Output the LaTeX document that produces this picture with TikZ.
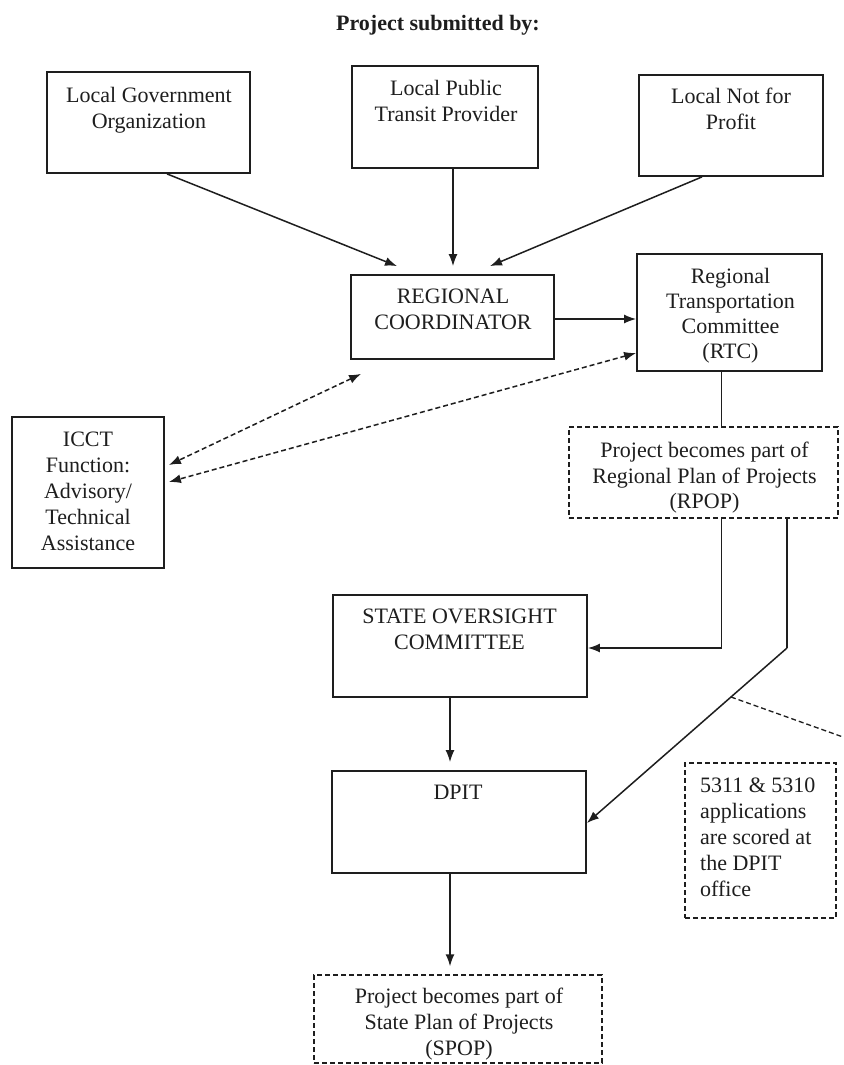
\documentclass[tikz,border=0pt]{standalone}
\usepackage{fontspec}
\setmainfont{Liberation Serif}
\usetikzlibrary{arrows.meta,calc}
\definecolor{ink}{HTML}{1E1E1E}
\tikzset{
  box/.style={draw=ink, line width=1.8pt, inner sep=0pt, minimum width=#1},
  boxh/.style={minimum height=#1},
  dbox/.style={box=#1, dash pattern=on 5pt off 3pt, line width=1.4pt},
  txt/.style={font=\fontsize{22}{26}\selectfont, align=center, inner sep=0pt, text=ink, anchor=north},
  conn/.style={draw=ink, line width=1.5pt},
  tip/.tip={Latex[length=12pt,width=9pt]},
  arr/.style={conn, -tip},
  darr/.style={conn, dash pattern=on 5pt off 3pt, tip-tip},
  dline/.style={conn, line width=1.3pt, dash pattern=on 5pt off 3pt},
}
\begin{document}
\begin{tikzpicture}[x=1pt,y=-1pt]
\useasboundingbox[fill=white] (0,0) rectangle (843,1065);

% title
\node[txt, font=\fontsize{22}{26}\selectfont\bfseries] (title) at (438,15) {Project submitted by:};

% boxes
\node[box=203pt, boxh=101pt] (lgo)  at (148.5,122.5) {};
\node[box=186pt, boxh=102pt] (lptp) at (445,117) {};
\node[box=184pt, boxh=101pt] (lnp)  at (731,125.5) {};
\node[box=203pt, boxh=84pt]  (rc)   at (452.5,317) {};
\node[box=185pt, boxh=117pt] (rtc)  at (729.5,312.5) {};
\node[box=152pt, boxh=151pt] (icct) at (88,492.5) {};
\node[dbox=269pt, boxh=91pt] (rpop) at (703.5,472.5) {};
\node[box=254pt, boxh=102pt] (soc)  at (460,646) {};
\node[box=254pt, boxh=102pt] (dpit) at (459,822) {};
\node[dbox=151pt, boxh=155pt] (n5311) at (760.5,840.5) {};
\node[dbox=288pt, boxh=88pt] (spop) at (458,1019) {};

% texts
\node[txt] (lgoT)  at (149,87)  {Local Government\\Organization};
\node[txt] (lptpT) at (446,80)  {Local Public\\Transit Provider};
\node[txt] (lnpT)  at (731,88)  {Local Not for\\Profit};
\node[txt] (rcT)   at (453,289) {REGIONAL\\COORDINATOR};
\node[txt, font=\fontsize{22}{25}\selectfont] (rtcT) at (730.5,268) {Regional\\Transportation\\Committee\\(RTC)};
\node[txt] (icctT) at (88,432) {ICCT\\Function:\\Advisory/\\Technical\\Assistance};
\node[txt, font=\fontsize{22}{25.5}\selectfont] (rpopT) at (704.5,442) {Project becomes part of\\Regional Plan of Projects\\(RPOP)};
\node[txt] (socT)  at (459.5,609) {STATE OVERSIGHT\\COMMITTEE};
\node[txt] (dpitT) at (458,785) {DPIT};
\node[txt, align=left, anchor=north west] (n5311T) at (700,778) {5311 \& 5310\\applications\\are scored at\\the DPIT\\office};
\node[txt] (spopT) at (459,988) {Project becomes part of\\State Plan of Projects\\(SPOP)};

% connectors
\draw[arr] ([xshift=18.5pt]lgo.south) -- ([xshift=-55.5pt,yshift=8pt]rc.north);
\draw[arr] ([xshift=8pt]lptp.south) -- ([xshift=0.5pt,yshift=8pt]rc.north);
\draw[arr] ([xshift=-29pt]lnp.south) -- ([xshift=37.5pt,yshift=8pt]rc.north);
\draw[arr] ([yshift=-2pt]rc.east) -- ([yshift=-2pt]rc.east -| rtc.west);
\draw[darr] ([xshift=11pt,yshift=-14pt]rc.south west) -- ([xshift=4pt,yshift=27.5pt]icct.east);
\draw[darr] ([yshift=-40.5pt]rtc.west) -- ([xshift=4pt,yshift=10.5pt]icct.east);
\draw[conn] ([xshift=-8pt]rtc.south) -- ([xshift=18pt]rpop.north);
\draw[arr] ([xshift=18pt]rpop.south) |- ([yshift=-2pt]soc.east);
\coordinate (bend) at (787,648);
\coordinate (edge) at (843,737);
\draw[conn] ([xshift=83.5pt]rpop.south) -- (bend);
\draw[arr] (bend) -- ([yshift=-1pt]dpit.east);
\path (bend) -- ([yshift=-1pt]dpit.east) coordinate[pos=0.28] (split);
\draw[dline] (split) -- (edge);
\draw[arr] ([xshift=-10pt]soc.south) -- ([xshift=-9pt,yshift=8pt]dpit.north);
\draw[arr] ([xshift=-9pt]dpit.south) -- ([xshift=-8pt,yshift=8pt]spop.north);
\end{tikzpicture}
\end{document}
